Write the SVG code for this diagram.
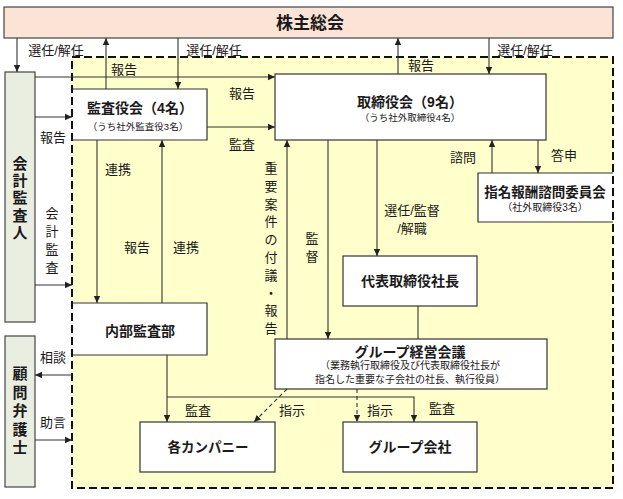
<svg xmlns="http://www.w3.org/2000/svg" width="623" height="499" viewBox="0 0 623 499">
<style>
text{font-family:'Liberation Sans','Noto Sans CJK JP',sans-serif;fill:#1a1a1a;dominant-baseline:central;text-anchor:middle}
.lb{font-size:13px}
.t{font-size:14px;font-weight:bold}
.s{font-size:9.5px}
.box{fill:#fff;stroke:#333;stroke-width:1.2}
.edge{fill:none;stroke:#333;stroke-width:1.2}
.c{fill:none;stroke:#333;stroke-width:1.1}
.a{marker-end:url(#ah)}
.d{stroke-dasharray:4 3}
</style>
<defs>
<marker id="ah" markerWidth="8" markerHeight="8" refX="7" refY="4" orient="auto" markerUnits="userSpaceOnUse">
<path d="M0,0.8 L7,4 L0,7.2 z" fill="#222"/>
</marker>
</defs>
<rect width="623" height="499" fill="#fff"/>

<g id="boundary">
<rect x="72" y="57" width="541" height="431" fill="#ffffcc" stroke="none"/>
</g>

<g id="n-shareholders">
<rect x="4" y="7" width="609" height="31" fill="#fbe4d6" stroke="#444" stroke-width="1.2"/>
<text x="310" y="23" style="font-size:17px;font-weight:bold">株主総会</text>
</g>

<g id="n-auditor">
<rect x="5" y="72" width="30" height="250" fill="#eaeee0" stroke="#444" stroke-width="1.2"/>
<text style="font-size:15px;font-weight:bold"><tspan x="20" y="163">会</tspan><tspan x="20" y="180">計</tspan><tspan x="20" y="197">監</tspan><tspan x="20" y="215">査</tspan><tspan x="20" y="232">人</tspan></text>
</g>

<g id="n-lawyer">
<rect x="5" y="336" width="30" height="151" fill="#eaeee0" stroke="#444" stroke-width="1.2"/>
<text style="font-size:15px;font-weight:bold"><tspan x="20" y="373">顧</tspan><tspan x="20" y="392">問</tspan><tspan x="20" y="410">弁</tspan><tspan x="20" y="429">護</tspan><tspan x="20" y="447">士</tspan></text>
</g>

<g id="n-kansayaku">
<rect x="72" y="89" width="135" height="51" fill="#fff"/>
<path class="edge" d="M72,89 H207 V140 H72"/>
<text x="140" y="108" class="t">監査役会（4名）</text>
<text x="138" y="126" class="s">（うち社外監査役3名）</text>
</g>

<g id="n-board">
<rect x="275" y="74" width="271" height="66" class="box"/>
<text x="410" y="102" class="t">取締役会（9名）</text>
<text x="410" y="117" class="s">（うち社外取締役4名）</text>
</g>

<g id="n-nomination">
<rect x="478" y="173" width="135" height="49" fill="#fff"/>
<path class="edge" d="M613,173 H478 V222 H613"/>
<text x="545" y="192" style="font-size:13.5px;font-weight:bold">指名報酬諮問委員会</text>
<text x="545" y="207" style="font-size:10px">（社外取締役3名）</text>
</g>

<g id="n-president">
<rect x="343" y="256" width="134" height="50" class="box"/>
<text x="410" y="281" class="t">代表取締役社長</text>
</g>

<g id="n-internal-audit">
<rect x="72" y="303" width="135" height="52" fill="#fff"/>
<path class="edge" d="M72,303 H207 V355 H72"/>
<text x="140" y="331" class="t">内部監査部</text>
</g>

<g id="n-group-mgmt">
<rect x="275" y="339" width="272" height="50" class="box"/>
<text x="410" y="352" class="t">グループ経営会議</text>
<text x="410" y="365" style="font-size:10px">（業務執行取締役及び代表取締役社長が</text>
<text x="410" y="379" style="font-size:10px">指名した重要な子会社の社長、執行役員）</text>
</g>

<g id="n-companies">
<rect x="140" y="422" width="135" height="50" class="box"/>
<text x="208" y="447" style="font-size:13.5px;font-weight:bold">各カンパニー</text>
</g>

<g id="n-group-cos">
<rect x="343" y="422" width="134" height="50" class="box"/>
<text x="410" y="447" class="t">グループ会社</text>
</g>

<g id="boundary-line">
<rect x="72" y="57" width="541" height="431" fill="none" stroke="#111" stroke-width="2" stroke-dasharray="8 4"/>
</g>

<g id="connectors">
<path class="c a" d="M17,38 V72"/>
<path class="c a" d="M106,89 V38"/>
<path class="c a" d="M178,38 V89"/>
<path class="c a" d="M398,74 V38"/>
<path class="c a" d="M489,38 V74"/>
<path class="c a" d="M35,77 H275"/>
<path class="c a" d="M35,117 H72"/>
<path class="c a" d="M207,127 H275"/>
<path class="c a" d="M97,140 V303"/>
<path class="c a" d="M162,303 V140"/>
<path class="c a" d="M35,285 H72"/>
<path class="c a" d="M287,339 V140"/>
<path class="c a" d="M328,140 V339"/>
<path class="c a" d="M377,140 V256"/>
<path class="c a" d="M492,173 V140"/>
<path class="c a" d="M538,140 V173"/>
<path class="c" d="M418,306 V339"/>
<path class="c a" d="M72,375 H35"/>
<path class="c a" d="M35,440 H72"/>
<path class="c a" d="M167,355 V422"/>
<path class="c a" d="M167,397 H414 V422"/>
<path class="c a d" d="M287,389 L254,422"/>
<path class="c a d" d="M357,389 V422"/>
</g>

<g id="labels" class="lb">
<text x="56" y="50" class="lb">選任/解任</text>
<text x="214" y="50" class="lb">選任/解任</text>
<text x="525" y="50" class="lb">選任/解任</text>
<text x="124" y="69" class="lb">報告</text>
<text x="421" y="65" class="lb">報告</text>
<text x="242" y="93" class="lb">報告</text>
<text x="242" y="144" class="lb">監査</text>
<text x="53" y="137" class="lb">報告</text>
<text x="118" y="169" class="lb">連携</text>
<text x="137" y="247" class="lb">報告</text>
<text x="186" y="247" class="lb">連携</text>
<text class="lb"><tspan x="52" y="213">会</tspan><tspan x="52" y="231">計</tspan><tspan x="52" y="249">監</tspan><tspan x="52" y="267">査</tspan></text>
<text class="lb"><tspan x="271" y="168">重</tspan><tspan x="271" y="186">要</tspan><tspan x="271" y="204">案</tspan><tspan x="271" y="221">件</tspan><tspan x="271" y="239">の</tspan><tspan x="271" y="257">付</tspan><tspan x="271" y="275">議</tspan><tspan x="271" y="293">・</tspan><tspan x="271" y="310">報</tspan><tspan x="271" y="328">告</tspan></text>
<text class="lb"><tspan x="312" y="238">監</tspan><tspan x="312" y="256">督</tspan></text>
<text x="412" y="210" class="lb">選任/監督</text>
<text x="412" y="228" class="lb">/解職</text>
<text x="463" y="157" class="lb">諮問</text>
<text x="564" y="155" class="lb">答申</text>
<text x="53" y="357" class="lb">相談</text>
<text x="53" y="422" class="lb">助言</text>
<text x="198" y="410" class="lb">監査</text>
<text x="292" y="410" class="lb">指示</text>
<text x="380" y="410" class="lb">指示</text>
<text x="442" y="408" class="lb">監査</text>
</g>
</svg>
